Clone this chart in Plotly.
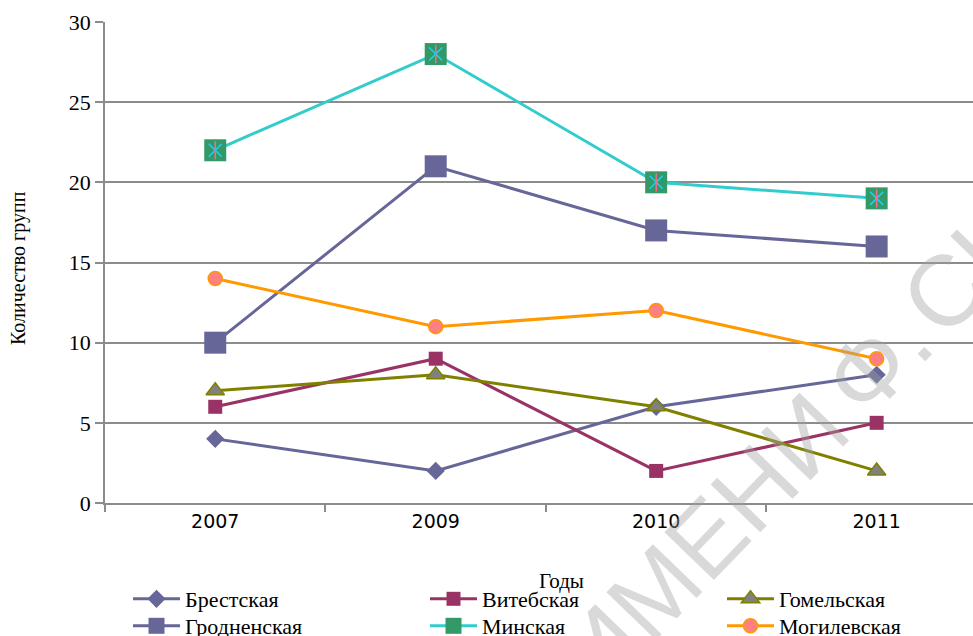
import plotly.graph_objects as go

# ── Данные ───────────────────────────────────────────────────────────────────
years = ["2007", "2009", "2010", "2011"]

brest   = [4, 2, 6, 8]
vitebsk = [6, 9, 2, 5]
gomel   = [7, 8, 6, 2]
grodno  = [10, 21, 17, 16]
minsk   = [22, 28, 20, 19]
mogilev = [14, 11, 12, 9]

# ── Оформление ───────────────────────────────────────────────────────────────
C_GRID = "#8C8C8C"
SERIF = "'Liberation Serif', 'Times New Roman', 'DejaVu Serif', serif"
SANS = "'DejaVu Sans', Verdana, sans-serif"

W, H = 973, 636
L, T, B = 105, 22, 133
PLOT_W = W - L
PLOT_H = H - T - B


def px_x(x):
    return (x - L) / PLOT_W


def px_y(y):
    return (H - B - y) / PLOT_H


fig = go.Figure()

# каждая запись легенды — отдельная легенда (3 колонки x 2 строки, как в Excel)
fig.add_trace(go.Scatter(
    x=years, y=brest, name="Брестская", mode="lines+markers", legend="legend",
    line=dict(color="#666699", width=3),
    marker=dict(symbol="diamond", size=14, color="#666699"),
))
fig.add_trace(go.Scatter(
    x=years, y=vitebsk, name="Витебская", mode="lines+markers", legend="legend2",
    line=dict(color="#993366", width=3),
    marker=dict(symbol="square", size=14, color="#993366"),
))
fig.add_trace(go.Scatter(
    x=years, y=gomel, name="Гомельская", mode="lines+markers", legend="legend3",
    line=dict(color="#808000", width=3),
    marker=dict(symbol="triangle-up", size=16, color="#808080",
                line=dict(color="#808000", width=1.5)),
))
fig.add_trace(go.Scatter(
    x=years, y=grodno, name="Гродненская", mode="lines+markers", legend="legend4",
    line=dict(color="#666699", width=3),
    marker=dict(symbol="square", size=22, color="#666699"),
))
fig.add_trace(go.Scatter(
    x=years, y=minsk, name="Минская", mode="lines+markers", legend="legend5",
    legendgroup="minsk",
    line=dict(color="#33CCCC", width=3),
    marker=dict(symbol="square", size=22, color="#339966"),
))
# звёздочка (6 лучей) поверх зелёного квадрата
for sym in ["x-thin-open", "line-ns-open"]:
    fig.add_trace(go.Scatter(
        x=years, y=minsk, mode="markers", legend="legend5",
        legendgroup="minsk", showlegend=False,
        marker=dict(symbol=sym, size=13, line=dict(color="#33CCCC", width=1.5)),
        hoverinfo="skip",
    ))
fig.add_trace(go.Scatter(
    x=years, y=mogilev, name="Могилевская", mode="lines+markers", legend="legend6",
    line=dict(color="#FF9900", width=3),
    marker=dict(symbol="circle", size=14, color="#FF8080",
                line=dict(color="#FF9900", width=1.5)),
))


def _legend(x_px, top_px):
    return dict(
        orientation="v", x=px_x(x_px), xanchor="left",
        y=px_y(top_px), yanchor="top",
        itemwidth=47, tracegroupgap=0,
        font=dict(family=SERIF, size=22, color="#000000"),
        bgcolor="rgba(0,0,0,0)",
    )


ROW1, ROW2 = 578, 605
fig.update_layout(
    width=W, height=H,
    font=dict(family=SERIF, color="#000000"),
    paper_bgcolor="#FFFFFF", plot_bgcolor="#FFFFFF",
    margin=dict(l=L, r=0, t=T, b=B, autoexpand=False),
    showlegend=True,
    legend=_legend(128, ROW1),
    legend2=_legend(425, ROW1),
    legend3=_legend(722, ROW1),
    legend4=_legend(128, ROW2),
    legend5=_legend(425, ROW2),
    legend6=_legend(722, ROW2),
)

fig.update_xaxes(
    type="category", range=[-0.5, 3.437],
    showline=True, linecolor=C_GRID, linewidth=1.5,
    ticks="outside", tickson="boundaries", ticklen=7, tickcolor=C_GRID, tickwidth=1.5,
    showgrid=False,
    tickfont=dict(family=SANS, size=19, color="#000000"),
)
fig.update_yaxes(
    range=[0, 30], dtick=5,
    showline=True, linecolor=C_GRID, linewidth=1.5,
    ticks="outside", ticklen=8, tickcolor=C_GRID, tickwidth=1.5,
    showgrid=True, gridcolor=C_GRID, gridwidth=1.5,
    zeroline=False,
    tickfont=dict(family=SERIF, size=22, color="#000000"),
)

fig.add_annotation(
    text="Количество групп", textangle=-90,
    xref="paper", yref="paper", x=px_x(18), y=px_y(268),
    xanchor="center", yanchor="middle", showarrow=False,
    font=dict(family=SERIF, size=20, color="#000000"),
)
fig.add_annotation(
    text="Годы",
    xref="paper", yref="paper", x=px_x(561), y=px_y(581),
    xanchor="center", yanchor="middle", showarrow=False,
    font=dict(family=SERIF, size=21, color="#000000"),
)

# водяной знак (узкие пробелы, как в оригинале)
fig.add_annotation(
    text="ИМЕНИ\u2006Ф.\u200aСК", textangle=-46,
    xref="paper", yref="paper", x=px_x(792), y=px_y(449),
    xanchor="center", yanchor="middle", showarrow=False,
    font=dict(family="'Liberation Sans', Arial, sans-serif", size=100,
              color="rgba(160,160,160,0.4)"),
)

fig.write_html(
    "out.html",
    config={"displayModeBar": False},
    post_script="document.body.style.margin='0';document.body.style.overflow='hidden';",
)
